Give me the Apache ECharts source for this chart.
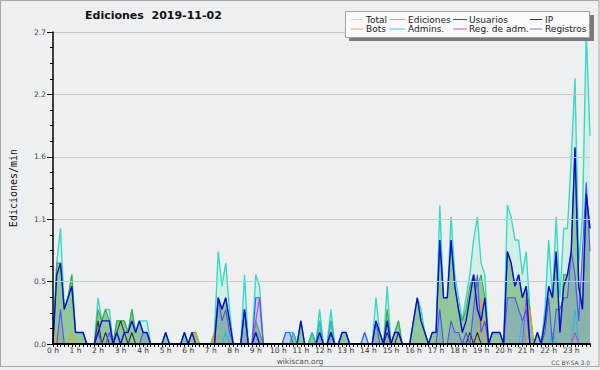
<!DOCTYPE html>
<html><head><meta charset="utf-8">
<script src="https://cdn.jsdelivr.net/npm/echarts/dist/echarts.min.js"></script>
<style>html,body{margin:0;padding:0;background:#eeeff1}#c{width:600px;height:370px}</style>
</head><body><div id="c"></div>
<script>
// ---- data (10-minute bins, edits per minute) ----
const hourLabels = ['0 h','1 h','2 h','3 h','4 h','5 h','6 h','7 h','8 h','9 h','10 h','11 h',
  '12 h','13 h','14 h','15 h','16 h','17 h','18 h','19 h','20 h','21 h','22 h','23 h'];
const binMinutes = ['00','10','20','30','40','50'];
const categories = [];
hourLabels.forEach((h, k) => binMinutes.forEach(m => categories.push(k + ':' + m)));
const yTickLabels = ['0.0','0.5','1.1','1.6','2.2','2.7'];

const total = [
 0,0.7,1.0,0.3,0.4,0.6, 0.1,0.1,0.1,0,0,0,
 0.4,0.2,0.3,0.3,0,0.2, 0.2,0.2,0.1,0.3,0.1,0.2,
 0.2,0.2,0,0,0,0, 0.1,0,0,0,0,0.1,
 0,0.1,0.1,0,0,0, 0,0.1,0.8,0.5,0.7,0.3,
 0,0,0,0.6,0,0, 0.6,0.5,0,0,0,0,
 0,0,0.1,0.1,0.1,0, 0.2,0,0,0.1,0,0.3,
 0,0,0.3,0,0,0.1, 0.1,0,0,0,0,0.1,
 0,0,0.4,0.1,0,0.5, 0,0.1,0.2,0,0,0,
 0.2,0.4,0.3,0.1,0,0.1, 0.1,1.2,0.4,0.4,1.1,0.6,
 0.4,0.2,0.4,0.6,0.9,1.1, 0.7,0.6,0,0.1,0.1,0.1,
 0,1.2,1.1,0.9,0.9,0.6, 0.8,0.3,0,0.1,0,0.3,
 0.9,0.4,1.1,0.4,1.0,1.0, 1.6,2.3,0.7,1.1,2.7,1.8];
const ediciones = [
 0,0.7,0.7,0.3,0.4,0.6, 0.1,0.1,0.1,0,0,0,
 0.3,0.2,0.3,0.2,0,0.2, 0.2,0.2,0.1,0.3,0.1,0.2,
 0.1,0.1,0,0,0,0, 0.1,0,0,0,0,0.1,
 0,0.1,0.1,0,0,0, 0,0.1,0.4,0.3,0.4,0.2,
 0,0,0,0.3,0,0, 0.2,0.1,0,0,0,0,
 0,0,0,0,0.1,0, 0.2,0,0,0.1,0,0.2,
 0,0,0.2,0,0,0.1, 0.1,0,0,0,0,0,
 0,0,0.2,0.1,0,0.3, 0,0.1,0.2,0,0,0,
 0.2,0.4,0.2,0.1,0,0.1, 0.1,0.9,0.4,0.4,0.9,0.5,
 0.3,0.2,0.3,0.5,0.6,0.5, 0.6,0.4,0,0.1,0.1,0.1,
 0,0.8,0.7,0.5,0.6,0.4, 0.5,0.3,0,0.1,0,0.2,
 0.5,0.4,0.8,0.1,0.6,0.6, 0.8,1.7,0.5,0.3,1.3,1.0];
const usuarios = [
 0,0.6,0.7,0.3,0.4,0.5, 0.1,0.1,0.1,0,0,0,
 0.1,0.2,0.2,0.2,0,0.1, 0,0.1,0.1,0.2,0.1,0.2,
 0.1,0.1,0,0,0,0, 0.1,0,0,0,0,0.1,
 0,0.1,0,0,0,0, 0,0,0.4,0.3,0.4,0.2,
 0,0,0,0.3,0,0, 0.1,0,0,0,0,0,
 0,0,0,0,0,0, 0.2,0,0,0,0,0.1,
 0,0,0.1,0,0,0.1, 0.1,0,0,0,0,0,
 0,0,0.2,0.1,0,0.2, 0,0.1,0.1,0,0,0,
 0.2,0.4,0.2,0.1,0,0.1, 0.1,0.9,0.4,0.4,0.9,0.5,
 0.3,0.1,0.2,0.4,0.6,0.3, 0.2,0.4,0,0.1,0.1,0.1,
 0,0.8,0.7,0.5,0.6,0.4, 0.5,0,0,0.1,0,0.2,
 0.5,0.4,0.8,0.1,0.5,0.6, 0.8,1.7,0.5,0.3,1.3,1.0];
const ip = [
 0,0,0,0,0,0, 0,0,0,0,0,0,
 0.2,0,0.1,0,0,0.1, 0.2,0.1,0,0.1,0,0,
 0,0,0,0,0,0, 0,0,0,0,0,0,
 0,0,0,0,0,0, 0,0,0,0,0,0,
 0,0,0,0,0,0, 0,0,0,0,0,0,
 0,0,0,0,0,0, 0,0,0,0,0,0,
 0,0,0,0,0,0, 0,0,0,0,0,0,
 0,0,0,0,0,0.1, 0,0,0.1,0,0,0,
 0,0,0,0,0,0, 0,0,0,0,0,0,
 0,0,0,0.1,0,0.1, 0,0,0,0,0,0,
 0,0,0,0,0,0, 0,0,0,0,0,0,
 0,0,0,0,0,0, 0,0,0,0,0,0];
const bots = [
 0,0.1,0,0,0,0.1, 0,0,0,0,0,0,
 0,0,0,0,0,0, 0,0,0,0,0,0,
 0,0,0,0,0,0, 0,0,0,0,0,0,
 0,0,0.1,0,0,0, 0,0.1,0,0,0,0,
 0,0,0,0,0,0, 0,0,0,0,0,0,
 0,0,0,0,0,0, 0,0,0,0,0,0,
 0,0,0,0,0,0, 0,0,0,0,0,0,
 0,0,0,0,0,0, 0,0,0,0,0,0,
 0,0,0,0,0,0, 0,0,0,0,0,0,
 0,0,0,0,0,0, 0.4,0,0,0,0,0,
 0,0,0,0,0,0, 0,0.3,0,0,0,0,
 0,0,0,0,0,0, 0,0,0,0,0,0];
const admins = [
 0,0,0,0,0,0, 0,0,0,0,0,0,
 0,0,0,0,0,0, 0,0,0,0,0,0,
 0,0,0,0,0,0, 0,0,0,0,0,0,
 0,0,0,0,0,0, 0,0,0,0,0.1,0,
 0,0,0,0,0,0, 0,0,0,0,0,0,
 0,0,0,0,0.1,0, 0,0,0,0.1,0,0.2,
 0,0,0.2,0,0,0.1, 0.1,0,0,0,0,0,
 0,0,0,0,0,0, 0,0,0,0,0,0,
 0,0,0,0,0,0, 0,0,0,0,0,0,
 0,0,0,0,0,0, 0,0,0,0,0,0,
 0,0,0,0,0,0.2, 0,0,0,0,0,0,
 0,0.1,0,0,0,0, 0,0.3,0,0,0,0];
const regAdm = [
 0,0,0,0,0,0, 0,0,0,0,0,0,
 0,0,0,0,0,0, 0,0,0,0,0,0,
 0,0,0,0,0,0, 0,0,0,0,0,0,
 0,0,0,0,0,0, 0,0,0,0,0,0,
 0,0,0,0,0,0, 0.2,0.4,0,0,0,0,
 0,0,0,0,0,0, 0,0,0,0,0,0,
 0,0,0,0,0,0, 0,0,0,0,0,0,
 0,0,0,0,0,0, 0,0,0,0,0,0,
 0,0,0,0,0,0, 0,0,0,0,0,0,
 0,0,0,0,0,0, 0,0,0,0,0,0,
 0,0,0,0,0,0, 0.4,0,0,0,0,0,
 0,0,0,0,0,0, 0,0.1,0,0,0,0];
const registros = [
 0,0,0.3,0,0,0, 0,0,0,0,0,0,
 0.1,0,0,0.1,0,0, 0,0,0,0,0,0,
 0.1,0.1,0,0,0,0, 0,0,0,0,0,0,
 0,0,0,0,0,0, 0,0,0.4,0.2,0.3,0.1,
 0,0,0,0.3,0,0, 0.4,0.4,0,0,0,0,
 0,0,0.1,0.1,0,0, 0,0,0,0,0,0.1,
 0,0,0.1,0,0,0, 0,0,0,0,0,0.1,
 0,0,0.2,0,0,0.2, 0,0,0,0,0,0,
 0,0,0,0,0,0, 0,0.3,0,0,0.2,0.1,
 0.1,0,0.1,0,0.3,0.6, 0.1,0.2,0,0,0,0,
 0,0.4,0.4,0.4,0.3,0.2, 0.3,0,0,0,0,0.1,
 0.4,0,0.3,0.3,0.4,0.4, 0.8,0.6,0.2,0.8,1.4,0.8];

const legendNames = ['Total','Ediciones','Usuarios','IP','Bots','Admins.','Reg. de adm.','Registros'];

// ---- styling ----
const lineColors = {
  'Total':'#38d8c8','Ediciones':'#3caa3c','Usuarios':'#0c0cd4','IP':'#303030',
  'Bots':'#f0a020','Admins.':'#22bcdc','Reg. de adm.':'#c040e8','Registros':'#5050f0'
};
const legendColors = {
  'Total':'#a6e6de','Ediciones':'#7ccc7c','Usuarios':'#3a3af0','IP':'#303030',
  'Bots':'#f4a040','Admins.':'#40c8d8','Reg. de adm.':'#c850e8','Registros':'#7878f0'
};
const seriesData = {
  'Total':total,'Ediciones':ediciones,'Usuarios':usuarios,'IP':ip,'Bots':bots,
  'Admins.':admins,'Reg. de adm.':regAdm,'Registros':registros
};
const drawOrder = ['Total','Ediciones','Admins.','Bots','IP','Reg. de adm.','Registros','Usuarios'];
const FONT = 'DejaVu Sans';

const series = [];
function fill(name, data, color) {
  series.push({name, type:'line', data, symbol:'none', silent:true, animation:false,
    lineStyle:{width:0}, areaStyle:{color, opacity:1}});
}
fill('fill-total', total, '#d3eee7');
fill('fill-ediciones', ediciones, '#90c89a');
fill('fill-registros', registros, 'rgba(110,110,235,0.22)');
drawOrder.forEach(n => {
  series.push({name:n, type:'line', data:seriesData[n], symbol:'none', silent:true, animation:false,
    lineStyle:{width: (n==='Usuarios'||n==='Total') ? 1.4 : 1.1, color:lineColors[n]},
    itemStyle:{color:lineColors[n]}});
});

// legend drawn as a boxed key
const legLineX = [[351,363],[390,405],[453,467],[530,542]];
const legTextX = [366,408,469,545];
const legRowY = [19.5,29];
const graphic = [
  {type:'rect', shape:{x:0.5,y:0.5,width:598.5,height:366}, style:{fill:'none',stroke:'#a8a8a8',lineWidth:1}, z:100},
  {type:'rect', shape:{x:349,y:15,width:245,height:26}, style:{fill:'#7a7a7a'}, z:100},
  {type:'rect', shape:{x:345.5,y:11.5,width:244,height:26}, style:{fill:'#f9f9f9',stroke:'#a0a0a0',lineWidth:1}, z:101}
];
legendNames.forEach((n, k) => {
  const col = k % 4, row = Math.floor(k / 4);
  const y = legRowY[row];
  graphic.push({type:'line', shape:{x1:legLineX[col][0],y1:y,x2:legLineX[col][1],y2:y},
    style:{stroke:legendColors[n],lineWidth:1}, z:102});
  graphic.push({type:'text', x:legTextX[col], y:y, z:102,
    style:{text:n, fill:'#222', font:'9px "' + FONT + '"', textVerticalAlign:'middle', textAlign:'left'}});
});
graphic.push({type:'text', x:300, y:361.5, z:102,
  style:{text:'wikiscan.org', fill:'#555', font:'7.5px "' + FONT + '"', textAlign:'center', textVerticalAlign:'middle'}});
graphic.push({type:'text', x:590, y:362.5, z:102,
  style:{text:'CC BY-SA 3.0', fill:'#555', font:'6px "' + FONT + '"', textAlign:'right', textVerticalAlign:'middle'}});

const chart = echarts.init(document.getElementById('c'), null, {renderer:'svg'});
chart.setOption({
  backgroundColor:'#eeeff1',
  animation:false,
  title:{text:'Ediciones  2019-11-02', left:85, top:10, padding:0,
    textStyle:{fontFamily:FONT, fontSize:11, fontWeight:'bold', color:'#111'}},
  grid:{left:46, right:10, top:32, bottom:26, containLabel:false},
  xAxis:{type:'category', data:categories, boundaryGap:false, z:10,
    axisLine:{show:true, lineStyle:{color:'#000', width:2}},
    axisTick:{show:true, interval:0, length:3, lineStyle:{color:'#000', width:1}},
    axisLabel:{interval:5, margin:2, color:'#333', fontFamily:FONT, fontSize:7.5,
      formatter:(v, i) => hourLabels[Math.floor(i / 6)]},
    splitLine:{show:false}},
  yAxis:{type:'value', min:0, max:2.7, interval:0.54, z:10,
    name:'Ediciones/min', nameLocation:'middle', nameRotate:90, nameGap:35,
    nameTextStyle:{fontFamily:'DejaVu Sans Mono', fontSize:10, color:'#111'},
    axisLine:{show:true, lineStyle:{color:'#000', width:1.5}},
    axisTick:{show:true, length:6, lineStyle:{color:'#000'}},
    minorTick:{show:true, splitNumber:4, length:3, lineStyle:{color:'#000'}},
    axisLabel:{margin:7, color:'#444', fontFamily:FONT, fontSize:7.5,
      formatter:(v) => yTickLabels[Math.round(v / 0.54)]},
    splitLine:{show:true, lineStyle:{color:'#c8c8c8', width:1}}},
  series:series,
  graphic:graphic
});
</script></body></html>
